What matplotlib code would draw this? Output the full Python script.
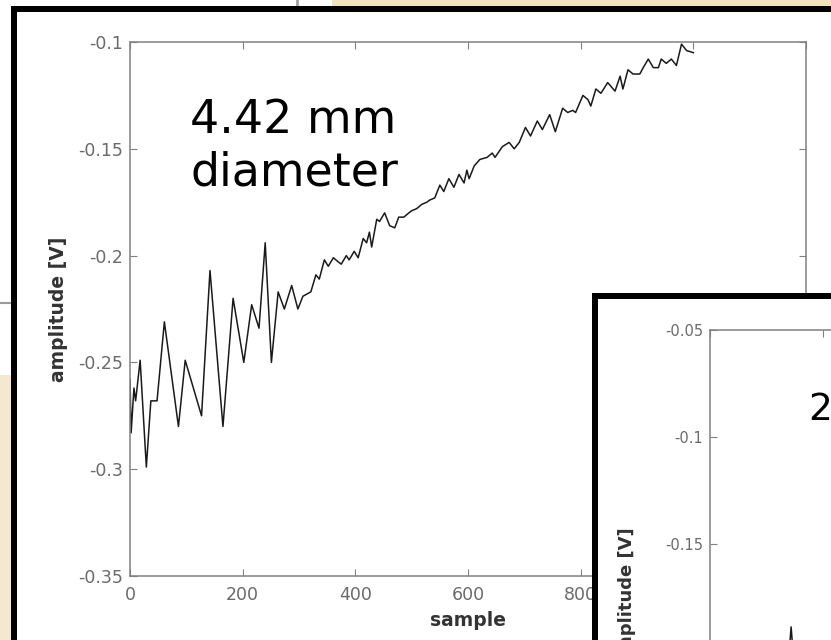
import matplotlib
matplotlib.use("Agg")
import matplotlib.pyplot as plt
from matplotlib.patches import Rectangle
from matplotlib.lines import Line2D

sample = [0, 2, 7, 10, 18, 29, 37, 48, 61, 86, 98, 127, 142, 165, 183, 202,
          216, 229, 240, 251, 263, 274, 287, 298, 307, 321, 330, 336, 345, 352,
          361, 370, 375, 384, 389, 398, 405, 414, 420, 425, 429, 438, 443, 452,
          461, 470, 477, 486, 495, 500, 509, 518, 527, 532, 541, 550, 557, 566,
          575, 584, 593, 598, 602, 611, 621, 634, 643, 648, 661, 673, 682, 691,
          702, 711, 723, 732, 745, 755, 768, 777, 786, 791, 804, 813, 818, 827,
          836, 848, 861, 870, 875, 884, 893, 905, 911, 920, 929, 938, 943, 952,
          961, 970, 979, 988, 1000]
amplitude = [-0.258, -0.283, -0.262, -0.268, -0.249, -0.299, -0.268, -0.268,
             -0.231, -0.280, -0.249, -0.275, -0.207, -0.280, -0.220, -0.250,
             -0.223, -0.234, -0.194, -0.250, -0.217, -0.225, -0.214, -0.225,
             -0.219, -0.217, -0.209, -0.211, -0.202, -0.205, -0.201, -0.203,
             -0.204, -0.200, -0.202, -0.198, -0.201, -0.192, -0.194, -0.189,
             -0.196, -0.183, -0.184, -0.180, -0.186, -0.187, -0.182, -0.182,
             -0.180, -0.179, -0.178, -0.176, -0.175, -0.174, -0.173, -0.167,
             -0.170, -0.164, -0.168, -0.162, -0.166, -0.160, -0.164, -0.158,
             -0.155, -0.154, -0.152, -0.154, -0.149, -0.147, -0.150, -0.147,
             -0.140, -0.144, -0.137, -0.141, -0.134, -0.142, -0.131, -0.133,
             -0.132, -0.133, -0.125, -0.127, -0.130, -0.122, -0.124, -0.119,
             -0.123, -0.116, -0.122, -0.113, -0.115, -0.115, -0.112, -0.108,
             -0.112, -0.112, -0.108, -0.110, -0.108, -0.111, -0.101, -0.104,
             -0.105]

# Segunda figura (solo se ve la punta del pico)
sample2 = [132, 144, 156]
amplitude2 = [-0.23, -0.189, -0.23]

xticks = [0, 200, 400, 600, 800, 1000, 1200]
xlabels1 = ["0", "200", "400", "600", "800", "", ""]  # 1000 y 1200 quedan tapados
yticks1 = [-0.35, -0.3, -0.25, -0.2, -0.15, -0.1]
ylabels1 = ["-0.35", "-0.3", "-0.25", "-0.2", "-0.15", "-0.1"]
yticks2 = [-0.3, -0.25, -0.2, -0.15, -0.1, -0.05]
ylabels2 = ["-0.3", "-0.25", "-0.2", "-0.15", "-0.1", "-0.05"]

W, H = 831, 640


def fx(px):
    return px / W


def fy(py):
    return 1 - py / H


def rect(x0, y0, x1, y1, **kw):
    # rectangulo en pixeles (origen arriba a la izquierda)
    return Rectangle((fx(x0), fy(y1)), fx(x1) - fx(x0), fy(y0) - fy(y1),
                     transform=fig.transFigure, **kw)


fig = plt.figure(figsize=(W / 100, H / 100), dpi=100)
fig.patch.set_facecolor("white")

# fondo de la diapositiva
fig.add_artist(rect(332, 0, 831, 6, facecolor="#F2E3BE", edgecolor="none", zorder=-5))
fig.add_artist(rect(0, 375, 11, 640, facecolor="#F3E8D0", edgecolor="none", zorder=-5))
fig.add_artist(Line2D([fx(297), fx(297)], [fy(0), fy(6)], transform=fig.transFigure,
                      color="#a0a0a0", lw=2, zorder=-5))
fig.add_artist(Line2D([fx(0), fx(11)], [fy(303), fy(303)], transform=fig.transFigure,
                      color="#9a9a9a", lw=1.5, zorder=-5))

# marco de la primera figura
fig.add_artist(rect(14, 9, 950, 760, facecolor="white", edgecolor="black",
                    linewidth=6 * 0.72, zorder=-4))

grey = "#808080"
tickgrey = "#6a6a6a"


def style(ax, yt, yl, xl, size):
    ax.set_xlim(0, 1200)
    ax.set_xticks(xticks)
    ax.set_xticklabels(xl)
    ax.set_ylim(yt[0], yt[-1])
    ax.set_yticks(yt)
    ax.set_yticklabels(yl)
    for s in ax.spines.values():
        s.set_color(grey)
        s.set_linewidth(1.1)
    ax.tick_params(direction="in", top=True, right=True, length=5, width=0.8,
                   color=grey, labelcolor=tickgrey, labelsize=size)
    ax.tick_params(axis="y", pad=5)
    ax.tick_params(axis="x", pad=7)
    ax.set_facecolor("white")


ax = fig.add_axes([fx(130), fy(576), 676 / W, 534 / H])
ax.set_zorder(1)
style(ax, yticks1, ylabels1, xlabels1, 12.5)
ax.plot(sample, amplitude, color="#1a1a1a", lw=1.1)
ax.set_xlabel("sample", fontsize=13.5, fontweight="bold", color="#333333")
ax.set_ylabel("amplitude [V]", fontsize=13.5, fontweight="bold", color="#333333")
ax.xaxis.set_label_coords(0.5, -0.066)
ax.yaxis.set_label_coords(-0.091, 0.5)
ax.text(0.0888, 0.8296, "4.42 mm", transform=ax.transAxes, fontsize=33,
        va="baseline", ha="left", color="black")
ax.text(0.0888, 0.7322, "diameter", transform=ax.transAxes, fontsize=33,
        va="baseline", ha="left", color="black")

# marco de la segunda figura
fig.add_artist(rect(595, 296, 1500, 1200, facecolor="white", edgecolor="black",
                    linewidth=6 * 0.72, zorder=2))

ax2 = fig.add_axes([fx(710), fy(864), 676 / W, 534 / H])
ax2.set_zorder(3)
style(ax2, yticks2, ylabels2, [""] * len(xticks), 10.5)
ax2.plot(sample2, amplitude2, color="#1a1a1a", lw=1.1)
ax2.set_ylabel("amplitude [V]", fontsize=13, fontweight="bold", color="#333333")
ax2.yaxis.set_label_coords(-0.11, 0.5)
ax2.text(0.145, 0.8315, "2", transform=ax2.transAxes, fontsize=27,
         va="baseline", ha="left", color="black")

fig.savefig("out.png", dpi=100)
